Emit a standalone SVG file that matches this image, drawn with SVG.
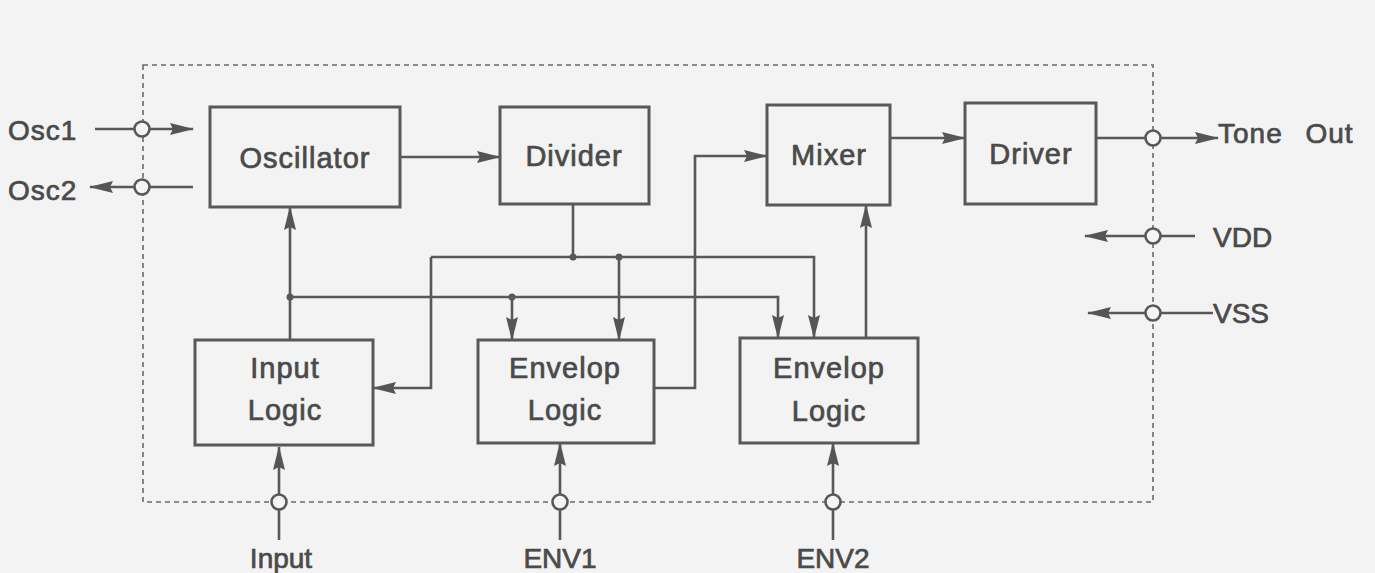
<svg xmlns="http://www.w3.org/2000/svg" width="1375" height="573" viewBox="0 0 1375 573">
<defs>
<marker id="ah" markerUnits="userSpaceOnUse" markerWidth="24" markerHeight="12" refX="23" refY="6" orient="auto">
<path d="M0,0 L24,6 L0,12 L3,6 z" fill="#555555"/>
</marker>
<style>
.bx{fill:none;stroke:#585858;stroke-width:3}
.ln{fill:none;stroke:#585858;stroke-width:2.6}
.ar{fill:none;stroke:#585858;stroke-width:2.6;marker-end:url(#ah)}
.pin{fill:#f4f4f4;stroke:#585858;stroke-width:2.6}
.dot{fill:#585858}
.bnd{fill:none;stroke:#6a6a6a;stroke-width:1.6;stroke-dasharray:5 4}
.lb{font-family:"Liberation Sans",Arial,sans-serif;font-size:29px;letter-spacing:1px;fill:#4a4a4a;stroke:#4a4a4a;stroke-width:0.7;text-anchor:middle}
.pl{font-family:"Liberation Sans",Arial,sans-serif;font-size:28px;fill:#4a4a4a;stroke:#4a4a4a;stroke-width:0.7}
</style>
</defs>
<rect width="1375" height="573" fill="#f3f3f3"/>
<rect id="boundary" x="143" y="65" width="1010" height="437" class="bnd"/>

<g id="connectors">
<path class="ar" d="M400,157 L500,157"/>
<path class="ar" d="M890,138 L965,138"/>
<path class="ln" d="M573,204 L573,257"/>
<path class="ar" d="M431,257 L814,257 L814,338"/>
<path class="ar" d="M431,257 L431,388 L373,388"/>
<path class="ar" d="M619,257 L619,340"/>
<path class="ar" d="M290,340 L290,207"/>
<path class="ar" d="M290,297 L778,297 L778,338"/>
<path class="ar" d="M512,297 L512,340"/>
<path class="ar" d="M654,388 L695,388 L695,156 L767,156"/>
<path class="ar" d="M866,338 L866,205"/>
<circle class="dot" cx="573" cy="257" r="3.5"/>
<circle class="dot" cx="619" cy="257" r="3.5"/>
<circle class="dot" cx="290" cy="297" r="3.5"/>
<circle class="dot" cx="512" cy="297" r="3.5"/>
<path class="ln" d="M95,129 L134.5,129"/>
<path class="ar" d="M149.5,129 L193,129"/>
<path class="ln" d="M193,187 L149.5,187"/>
<path class="ar" d="M134.5,187 L90,187"/>
<path class="ln" d="M1096,138 L1145.5,138"/>
<path class="ar" d="M1160.5,138 L1218,138"/>
<path class="ln" d="M1195,236 L1160.5,236"/>
<path class="ar" d="M1145.5,236 L1085,236"/>
<path class="ln" d="M1213,313 L1160.5,313"/>
<path class="ar" d="M1145.5,313 L1088,313"/>
<path class="ln" d="M279,540 L279,509.5"/>
<path class="ar" d="M279,494.5 L279,447"/>
<path class="ln" d="M560,540 L560,509.5"/>
<path class="ar" d="M560,494.5 L560,443"/>
<path class="ln" d="M833,540 L833,509.5"/>
<path class="ar" d="M833,494.5 L833,443"/>
<circle class="pin" cx="142" cy="129" r="7.5"/>
<circle class="pin" cx="142" cy="187" r="7.5"/>
<circle class="pin" cx="1153" cy="138" r="7.5"/>
<circle class="pin" cx="1153" cy="236" r="7.5"/>
<circle class="pin" cx="1153" cy="313" r="7.5"/>
<circle class="pin" cx="279" cy="502" r="7.5"/>
<circle class="pin" cx="560" cy="502" r="7.5"/>
<circle class="pin" cx="833" cy="502" r="7.5"/>
</g>

<g id="oscillator"><rect class="bx" x="210" y="107" width="190" height="100"/><text class="lb" x="305" y="168">Oscillator</text></g>
<g id="divider"><rect class="bx" x="500" y="107" width="149" height="97"/><text class="lb" x="574" y="166">Divider</text></g>
<g id="mixer"><rect class="bx" x="767" y="105" width="123" height="100"/><text class="lb" x="829" y="165">Mixer</text></g>
<g id="driver"><rect class="bx" x="965" y="103" width="131" height="101"/><text class="lb" x="1031" y="164">Driver</text></g>
<g id="input-logic"><rect class="bx" x="195" y="340" width="178" height="105"/><text class="lb" x="285" y="378">Input</text><text class="lb" x="285" y="420">Logic</text></g>
<g id="envelop-logic-1"><rect class="bx" x="478" y="340" width="176" height="103"/><text class="lb" x="565" y="378">Envelop</text><text class="lb" x="565" y="420">Logic</text></g>
<g id="envelop-logic-2"><rect class="bx" x="740" y="338" width="178" height="105"/><text class="lb" x="829" y="378">Envelop</text><text class="lb" x="829" y="421">Logic</text></g>

<g id="labels">
<text class="pl" x="8" y="140" letter-spacing="1">Osc1</text>
<text class="pl" x="8" y="200" letter-spacing="1">Osc2</text>
<text class="pl" x="1218" y="143" letter-spacing="1" word-spacing="14">Tone Out</text>
<text class="pl" x="1213" y="247">VDD</text>
<text class="pl" x="1213" y="323">VSS</text>
<text class="pl" x="281" y="568" text-anchor="middle">Input</text>
<text class="pl" x="560" y="568" text-anchor="middle">ENV1</text>
<text class="pl" x="833" y="568" text-anchor="middle">ENV2</text>
</g>
</svg>
